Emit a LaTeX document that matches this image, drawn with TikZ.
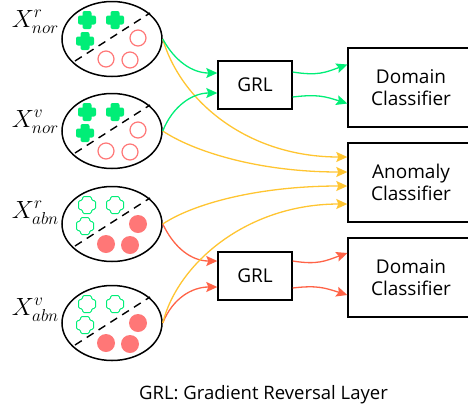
\documentclass[tikz,border=0pt]{standalone}
\usepackage{fontspec}
\newfontfamily\uifont{Open Sans}
\usetikzlibrary{shapes.geometric,arrows.meta}
\definecolor{grn}{HTML}{00EE77}
\definecolor{ylw}{HTML}{FFC531}
\definecolor{rdl}{HTML}{FF6347}
\definecolor{sal}{HTML}{FF7777}
\begin{document}
\begin{tikzpicture}[x=1pt,y=-1pt,
  setnode/.style={draw, ellipse, line width=1.5pt, minimum width=100pt, minimum height=75pt, inner sep=0pt},
  box/.style={draw, line width=1.4pt, font=\uifont\fontsize{19}{22}\selectfont, align=center, inner sep=0pt},
  lab/.style={anchor=base east, inner sep=0pt, font=\fontsize{27}{27}\selectfont},
  conn/.style={line width=1.3pt, -{Stealth[length=11pt,width=10pt,inset=2pt]}},
  divline/.style={line width=1.4pt, dash pattern=on 8pt off 6pt},
  plusf/.pic={\fill[grn, rounded corners=2pt] (-9,-4.5) rectangle (9,4.5) (-4.5,-9) rectangle (4.5,9);},
  pluso/.pic={\draw[grn, line width=1pt, rounded corners=1.5pt] (-4.5,-8.5) -- (4.5,-8.5) -- (4.5,-4.5) -- (8.5,-4.5) -- (8.5,4.5) -- (4.5,4.5) -- (4.5,8.5) -- (-4.5,8.5) -- (-4.5,4.5) -- (-8.5,4.5) -- (-8.5,-4.5) -- (-4.5,-4.5) -- cycle;},
  normset/.pic={
    \draw[divline] (-37,22) -- (38,-26);
    \path (-25,-19) pic{plusf} (3,-19) pic{plusf} (-27,2) pic{plusf};
    \draw[sal, line width=1.2pt] (26,-1) circle[radius=8] (-6,20) circle[radius=8] (18,21) circle[radius=8];
  },
  abnset/.pic={
    \draw[divline] (-37,22) -- (38,-26);
    \path (-25,-19) pic{pluso} (3,-19) pic{pluso} (-27,2) pic{pluso};
    \fill[sal] (26,0) circle[radius=9] (-6,20) circle[radius=9] (18,21) circle[radius=9];
  }
]
\useasboundingbox (0,0) rectangle (468,408);

% sets
\node[setnode] (e1) at (112,39) {};
\node[setnode] (e2) at (112,131) {};
\node[setnode] (e3) at (112,224) {};
\node[setnode] (e4) at (112,323) {};
\pic at (e1.center) {normset};
\pic at (e2.center) {normset};
\pic at (e3.center) {abnset};
\pic at (e4.center) {abnset};

% labels
\node[lab] (l1) at (59,27) {$X^{r}_{nor}$};
\node[lab] (l2) at (59,127) {$X^{v}_{nor}$};
\node[lab] (l3) at (59,218) {$X^{r}_{abn}$};
\node[lab] (l4) at (59,315) {$X^{v}_{abn}$};

% boxes
\node[box, minimum width=74pt, minimum height=48pt] (grl1) at (255,85) {GRL};
\node[box, minimum width=74pt, minimum height=48pt] (grl2) at (255,276) {GRL};
\node[box, minimum width=126pt, minimum height=79pt] (dc1) at (411,87.5) {Domain\\Classifier};
\node[box, minimum width=126pt, minimum height=79pt] (ac) at (411,182.5) {Anomaly\\Classifier};
\node[box, minimum width=126pt, minimum height=79pt] (dc2) at (411,277.5) {Domain\\Classifier};

% caption
\node[anchor=base, inner sep=0pt, font=\uifont\fontsize{18.5}{22}\selectfont] (cap) at (263.5,399) {GRL: Gradient Reversal Layer};

% red connectors
\draw[conn, rdl] (e3.east) .. controls +(12,25) and +(-25,0) .. ([yshift=15pt]grl2.west);
\draw[conn, rdl] (e4.east) .. controls +(10,-25) and +(-25,0) .. ([yshift=-11pt]grl2.west);
\draw[conn, rdl] ([yshift=15pt]grl2.east) .. controls +(25,4) and +(-22,8) .. ([yshift=24.5pt]dc2.west);
\draw[conn, rdl] ([yshift=-12pt]grl2.east) .. controls +(25,-3) and +(-22,-7) .. ([yshift=-17.5pt]dc2.west);

% yellow connectors
\draw[conn, ylw] (e1.east) .. controls +(18,62) and +(-100,0) .. ([yshift=25.5pt]ac.west);
\draw[conn, ylw] (e2.east) .. controls +(30,20) and +(-90,0) .. ([yshift=10.5pt]ac.west);
\draw[conn, ylw] (e3.east) .. controls +(30,-20) and +(-90,0) .. ([yshift=-3.5pt]ac.west);
\draw[conn, ylw] (e4.east) .. controls +(15,-60) and +(-100,0) .. ([yshift=-21.5pt]ac.west);

% green connectors
\draw[conn, grn] (e1.east) .. controls +(12,22) and +(-25,0) .. ([yshift=12pt]grl1.west);
\draw[conn, grn] (e2.east) .. controls +(10,-25) and +(-25,0) .. ([yshift=-8pt]grl1.west);
\draw[conn, grn] ([yshift=13pt]grl1.east) .. controls +(25,4) and +(-22,8) .. ([yshift=23pt]dc1.west);
\draw[conn, grn] ([yshift=-12pt]grl1.east) .. controls +(25,-3) and +(-22,-7) .. ([yshift=-16pt]dc1.west);
\end{tikzpicture}
\end{document}
